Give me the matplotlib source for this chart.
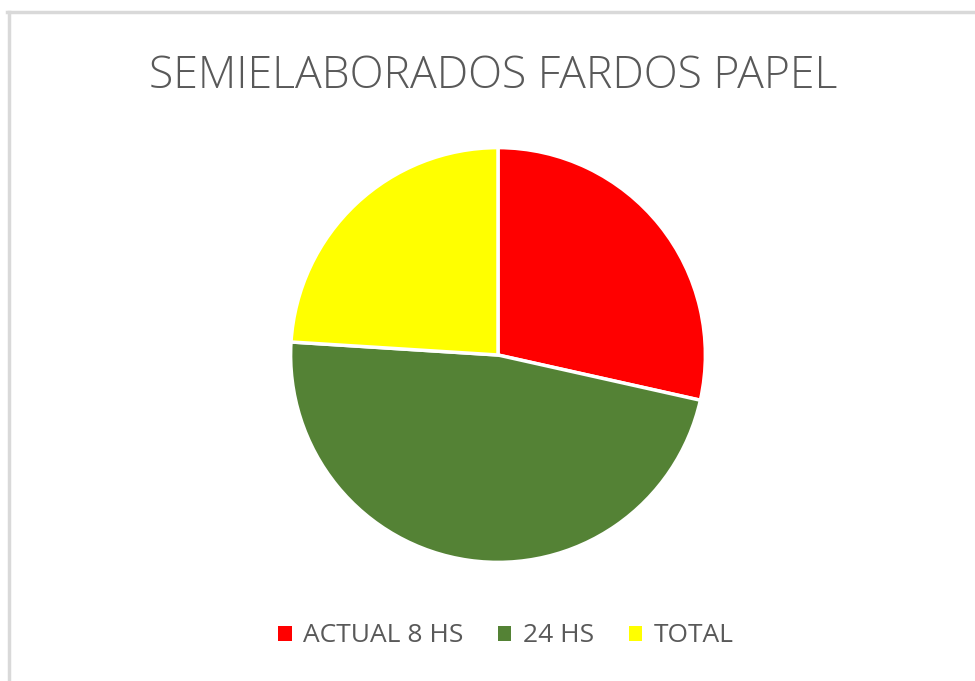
import matplotlib.pyplot as plt
from matplotlib.lines import Line2D
from matplotlib.patches import Patch

# datos del grafico
categorias = ['ACTUAL 8 HS', '24 HS', 'TOTAL']
valores = [28.5, 47.5, 24.0]
colores = ['#FF0000', '#548235', '#FFFF00']

plt.rcParams['font.family'] = ['Open Sans', 'DejaVu Sans']

fig = plt.figure(figsize=(9.75, 6.81), dpi=100)
fig.patch.set_facecolor('white')

# marco gris (solo arriba e izquierda)
fig.add_artist(Line2D([8.5 / 975, 8.5 / 975], [0, 1 - 11.5 / 681], transform=fig.transFigure,
                      color='#d9d9d9', linewidth=2.5))
fig.add_artist(Line2D([7 / 975, 1], [1 - 11.5 / 681, 1 - 11.5 / 681], transform=fig.transFigure,
                      color='#d9d9d9', linewidth=2.5))

# titulo
fig.text(0.506, 1 - 77 / 681, 'SEMIELABORADOS FARDOS PAPEL', ha='center', va='center',
         fontsize=32, color='#595959', fontweight='light')

# torta
ax = fig.add_axes([(498 - 208) / 975, (681 - 563) / 681, 416 / 975, 416 / 681])
ax.pie(valores, colors=colores, startangle=90, counterclock=False,
       wedgeprops=dict(edgecolor='white', linewidth=2.5))
ax.set_xlim(-1.003, 1.003)
ax.set_ylim(-1.003, 1.003)
ax.set_aspect('equal')
ax.axis('off')

# leyenda
handles = [Patch(facecolor=c, edgecolor='none') for c in colores]
leg = fig.legend(handles, categorias, loc='center', bbox_to_anchor=(0.519, 1 - 636 / 681),
                 ncol=3, frameon=False, fontsize=19, handlelength=0.5, handleheight=0.5,
                 handletextpad=0.45, columnspacing=1.3)
for t in leg.get_texts():
    t.set_color('#595959')

fig.savefig('out.png', dpi=100, facecolor='white')
